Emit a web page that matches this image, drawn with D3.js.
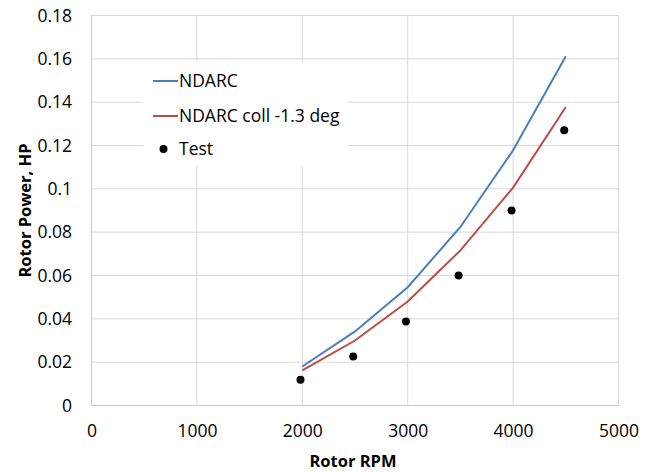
<!DOCTYPE html>
<html><head><meta charset="utf-8">
<script src="https://cdn.jsdelivr.net/npm/d3@7"></script>
<style>body{margin:0;background:#fff;} svg{display:block;}</style>
</head><body>
<script>
const rpm = [2000, 2500, 3000, 3500, 4000, 4500];
const ndarc = [0.0180, 0.0342, 0.0546, 0.0824, 0.1178, 0.1612];
const ndarcColl = [0.0162, 0.0300, 0.0480, 0.0716, 0.1006, 0.1378];
const testRpm = [1983, 2483, 2983, 3483, 3985, 4485];
const test = [0.0119, 0.0226, 0.0388, 0.0600, 0.0900, 0.1270];
const xTicks = [0, 1000, 2000, 3000, 4000, 5000];
const yTicks = [0, 0.02, 0.04, 0.06, 0.08, 0.1, 0.12, 0.14, 0.16, 0.18];
const seriesNames = ["NDARC", "NDARC coll -1.3 deg", "Test"];

const W = 653, H = 472;
const font = "'Open Sans', Lato, sans-serif";
const svg = d3.select("body").append("svg").attr("width", W).attr("height", H);
const x = d3.scaleLinear().domain([0, 5000]).range([91.5, 618.5]);
const y = d3.scaleLinear().domain([0, 0.18]).range([405.5, 15.5]);

// gridlines
svg.append("g").selectAll("line").data(yTicks).join("line")
  .attr("x1", x(0)).attr("x2", x(5000)).attr("y1", d => y(d)).attr("y2", d => y(d))
  .attr("stroke", "#d9d9d9").attr("stroke-width", 1);
svg.append("g").selectAll("line").data(xTicks).join("line")
  .attr("y1", y(0)).attr("y2", y(0.18)).attr("x1", d => x(d)).attr("x2", d => x(d))
  .attr("stroke", "#d9d9d9").attr("stroke-width", 1);
// axes lines
svg.append("line").attr("x1", x(0)).attr("x2", x(0)).attr("y1", y(0)).attr("y2", y(0.18)).attr("stroke", "#c8c8c8");
svg.append("line").attr("x1", x(0)).attr("x2", x(5000)).attr("y1", y(0)).attr("y2", y(0)).attr("stroke", "#c8c8c8");

// tick labels
const yAxis = d3.axisLeft(y).tickValues(yTicks).tickSize(0).tickPadding(19.5)
  .tickFormat(d => d === 0 ? "0" : String(+d.toFixed(2)));
const gy = svg.append("g").attr("transform", `translate(${x(0)},0)`).call(yAxis);
gy.select(".domain").remove();
gy.selectAll("text").attr("font-family", font).attr("font-size", 17.5).attr("fill", "#000");

const xAxis = d3.axisBottom(x).tickValues(xTicks).tickSize(0).tickPadding(19).tickFormat(d3.format("d"));
const gx = svg.append("g").attr("transform", `translate(0,${y(0)})`).call(xAxis);
gx.select(".domain").remove();
gx.selectAll("text").attr("font-family", font).attr("font-size", 17.5).attr("fill", "#000");

// axis titles
svg.append("text").attr("x", (x(0) + x(5000)) / 2 - 2).attr("y", 467)
  .attr("text-anchor", "middle").attr("font-family", font).attr("font-weight", "bold")
  .attr("font-size", 16.5).text("Rotor RPM");
svg.append("text").attr("transform", `translate(31,${(y(0) + y(0.18)) / 2}) rotate(-90)`)
  .attr("text-anchor", "middle").attr("font-family", font).attr("font-weight", "bold")
  .attr("font-size", 16.5).text("Rotor Power, HP");

// lines
const line = d3.line().x((d, i) => x(rpm[i])).y(d => y(d));
svg.append("path").datum(ndarc).attr("d", line).attr("fill", "none").attr("stroke", "#4a7ebb").attr("stroke-width", 2);
svg.append("path").datum(ndarcColl).attr("d", line).attr("fill", "none").attr("stroke", "#be4b48").attr("stroke-width", 2);
svg.append("g").selectAll("circle").data(test).join("circle")
  .attr("cx", (d, i) => x(testRpm[i])).attr("cy", d => y(d)).attr("r", 4).attr("fill", "#000");

// legend
const lg = svg.append("g");
lg.append("rect").attr("x", 143).attr("y", 62).attr("width", 205).attr("height", 104).attr("fill", "#fff");
const ly = [81, 116, 149];
const colors = ["#4a7ebb", "#be4b48", "#000"];
seriesNames.forEach((name, i) => {
  if (i < 2) {
    lg.append("line").attr("x1", 153).attr("x2", 178).attr("y1", ly[i]).attr("y2", ly[i])
      .attr("stroke", colors[i]).attr("stroke-width", 2);
  } else {
    lg.append("circle").attr("cx", 163.5).attr("cy", ly[i]).attr("r", 4).attr("fill", "#000");
  }
  lg.append("text").attr("x", 179).attr("y", ly[i]).attr("dy", "0.35em")
    .attr("font-family", font).attr("font-size", 17.5).attr("fill", "#000").text(name);
});
</script>
</body></html>
